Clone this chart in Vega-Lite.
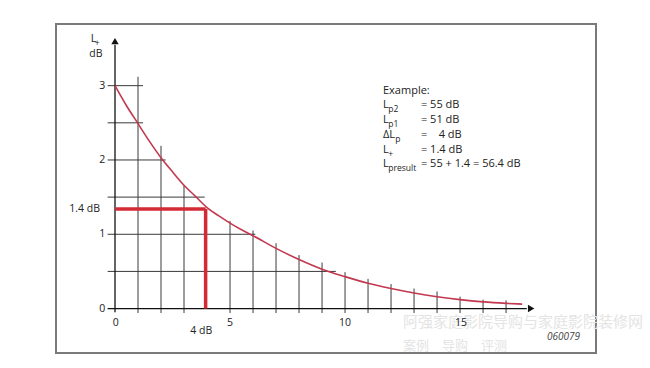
{
  "$schema": "https://vega.github.io/schema/vega-lite/v6.json",
  "width": 540,
  "height": 329,
  "autosize": {"type": "none"},
  "padding": {"left": 56, "top": 24, "right": 54, "bottom": 15},
  "background": "white",
  "config": {
    "view": {"stroke": "#7a7a7a", "strokeWidth": 2},
    "text": {"font": "Open Sans", "fontSize": 11, "color": "#222"}
  },
  "datasets": {
    "grid": [
      {"x": -0.32, "x2": 1.22, "y": 3, "y2": 3},
      {"x": -0.32, "x2": 1.22, "y": 2.5, "y2": 2.5},
      {"x": -0.32, "x2": 2.2, "y": 2, "y2": 2},
      {"x": -0.32, "x2": 3.9, "y": 1.5, "y2": 1.5},
      {"x": -0.32, "x2": 6.1, "y": 1, "y2": 1},
      {"x": -0.32, "x2": 9.6, "y": 0.5, "y2": 0.5},
      {"x": 1, "x2": 1, "y": -0.06, "y2": 3.12},
      {"x": 2, "x2": 2, "y": -0.06, "y2": 2.19},
      {"x": 3, "x2": 3, "y": -0.06, "y2": 1.66},
      {"x": 5, "x2": 5, "y": -0.06, "y2": 1.18},
      {"x": 6, "x2": 6, "y": -0.06, "y2": 1.05},
      {"x": 7, "x2": 7, "y": -0.06, "y2": 0.88},
      {"x": 8, "x2": 8, "y": -0.06, "y2": 0.72},
      {"x": 9, "x2": 9, "y": -0.06, "y2": 0.62},
      {"x": 10, "x2": 10, "y": -0.06, "y2": 0.49},
      {"x": 11, "x2": 11, "y": -0.06, "y2": 0.4},
      {"x": 12, "x2": 12, "y": -0.06, "y2": 0.33},
      {"x": 13, "x2": 13, "y": -0.06, "y2": 0.27},
      {"x": 14, "x2": 14, "y": -0.06, "y2": 0.23},
      {"x": 15, "x2": 15, "y": -0.06, "y2": 0.16},
      {"x": 16, "x2": 16, "y": -0.06, "y2": 0.12},
      {"x": 17, "x2": 17, "y": -0.06, "y2": 0.11}
    ],
    "axes": [
      {"x": -0.32, "x2": 17.9, "y": 0, "y2": 0},
      {"x": 0, "x2": 0, "y": -0.05, "y2": 3.55}
    ],
    "red": [
      {"x": 0, "x2": 3.94, "y": 1.34, "y2": 1.34},
      {"x": 3.94, "x2": 3.94, "y": 0, "y2": 1.34}
    ],
    "curve": [
      {"x": 0, "y": 3.0},
      {"x": 0.5, "y": 2.73},
      {"x": 1, "y": 2.49},
      {"x": 1.5, "y": 2.25},
      {"x": 2, "y": 2.03},
      {"x": 2.5, "y": 1.84},
      {"x": 3, "y": 1.66},
      {"x": 3.5, "y": 1.51},
      {"x": 4, "y": 1.36},
      {"x": 4.5, "y": 1.25},
      {"x": 5, "y": 1.15},
      {"x": 5.5, "y": 1.06},
      {"x": 6, "y": 0.98},
      {"x": 7, "y": 0.81},
      {"x": 8, "y": 0.66},
      {"x": 9, "y": 0.53},
      {"x": 10, "y": 0.43},
      {"x": 11, "y": 0.34},
      {"x": 12, "y": 0.27},
      {"x": 13, "y": 0.21},
      {"x": 14, "y": 0.16},
      {"x": 15, "y": 0.12},
      {"x": 16, "y": 0.09},
      {"x": 17, "y": 0.07},
      {"x": 17.7, "y": 0.06}
    ],
    "arrowUp": [{"x": 0, "y": 3.6}],
    "arrowRight": [{"x": 18.09, "y": 0}],
    "yLabels": [
      {"x": -0.42, "y": 0, "text": "0"},
      {"x": -0.42, "y": 1, "text": "1"},
      {"x": -0.42, "y": 2, "text": "2"},
      {"x": -0.42, "y": 3, "text": "3"},
      {"x": -0.65, "y": 1.34, "text": "1.4 dB"}
    ],
    "xLabels": [
      {"x": 0.03, "y": -0.19, "text": "0"},
      {"x": 5, "y": -0.19, "text": "5"},
      {"x": 10, "y": -0.19, "text": "10"},
      {"x": 15.04, "y": -0.19, "text": "15"},
      {"x": 3.75, "y": -0.3, "text": "4 dB"},
      {"x": -0.83, "y": 3.43, "text": "dB"}
    ],
    "notes": [
      {"x": 11.65, "y": 2.93, "text": "Example:"},
      {"x": 11.65, "y": 2.74, "text": "L"},
      {"x": 11.65, "y": 2.54, "text": "L"},
      {"x": 11.65, "y": 2.34, "text": "ΔL"},
      {"x": 11.65, "y": 2.14, "text": "L"},
      {"x": 11.65, "y": 1.94, "text": "L"},
      {"x": 13.3, "y": 2.74, "text": "= 55 dB"},
      {"x": 13.3, "y": 2.54, "text": "= 51 dB"},
      {"x": 13.3, "y": 2.34, "text": "=\u00a0\u00a0\u00a0 4 dB"},
      {"x": 13.3, "y": 2.14, "text": "= 1.4 dB"},
      {"x": 13.3, "y": 1.94, "text": "= 55 + 1.4 = 56.4 dB"},
      {"x": -1.05, "y": 3.63, "text": "L"}
    ],
    "subs": [
      {"x": 11.88, "y": 2.74, "text": "p2"},
      {"x": 11.88, "y": 2.54, "text": "p1"},
      {"x": 12.18, "y": 2.34, "text": "p"},
      {"x": 11.88, "y": 2.14, "text": "+"},
      {"x": 11.88, "y": 1.94, "text": "presult"},
      {"x": -0.88, "y": 3.63, "text": "+"}
    ],
    "code": [{"x": 18.78, "y": -0.38, "text": "060079"}],
    "wm1": [{"x": 12.52, "y": -0.18, "text": "阿强家庭影院导购与家庭影院装修网"}],
    "wm2": [{"x": 12.52, "y": -0.5, "text": "案例　导购　评测"}]
  },
  "encoding": {
    "x": {"field": "x", "type": "quantitative", "scale": {"domain": [-2.565, 20.91], "nice": false, "zero": false}, "axis": null},
    "y": {"field": "y", "type": "quantitative", "scale": {"domain": [-0.598, 3.83], "nice": false, "zero": false}, "axis": null}
  },
  "layer": [
    {
      "data": {"name": "wm1"},
      "mark": {"type": "text", "align": "left", "baseline": "middle", "font": "Noto Sans CJK SC", "fontSize": 15, "color": "#e4e4e4"},
      "encoding": {"text": {"field": "text"}}
    },
    {
      "data": {"name": "wm2"},
      "mark": {"type": "text", "align": "left", "baseline": "middle", "font": "Noto Sans CJK SC", "fontSize": 13, "color": "#e4e4e4"},
      "encoding": {"text": {"field": "text"}}
    },
    {
      "data": {"name": "grid"},
      "mark": {"type": "rule", "color": "#3a3a3a", "strokeWidth": 1},
      "encoding": {"x2": {"field": "x2"}, "y2": {"field": "y2"}}
    },
    {
      "data": {"name": "axes"},
      "mark": {"type": "rule", "color": "#111", "strokeWidth": 1.3},
      "encoding": {"x2": {"field": "x2"}, "y2": {"field": "y2"}}
    },
    {
      "data": {"name": "red"},
      "mark": {"type": "rule", "color": "#d42a35", "strokeWidth": 3.5},
      "encoding": {"x2": {"field": "x2"}, "y2": {"field": "y2"}}
    },
    {
      "data": {"name": "curve"},
      "mark": {"type": "line", "color": "#c2384f", "strokeWidth": 1.6, "interpolate": "monotone"},
      "encoding": {}
    },
    {
      "data": {"name": "arrowUp"},
      "mark": {"type": "point", "shape": "triangle-up", "filled": true, "color": "#111", "size": 55, "opacity": 1}
    },
    {
      "data": {"name": "arrowRight"},
      "mark": {"type": "point", "shape": "triangle-right", "filled": true, "color": "#111", "size": 55, "opacity": 1}
    },
    {
      "data": {"name": "yLabels"},
      "mark": {"type": "text", "align": "right", "baseline": "middle", "fontSize": 10.5},
      "encoding": {"text": {"field": "text"}}
    },
    {
      "data": {"name": "xLabels"},
      "mark": {"type": "text", "align": "center", "baseline": "middle", "fontSize": 10.5},
      "encoding": {"text": {"field": "text"}}
    },
    {
      "data": {"name": "notes"},
      "mark": {"type": "text", "align": "left", "baseline": "middle", "fontSize": 11},
      "encoding": {"text": {"field": "text"}}
    },
    {
      "data": {"name": "subs"},
      "mark": {"type": "text", "align": "left", "baseline": "middle", "fontSize": 8.5, "dy": 4},
      "encoding": {"text": {"field": "text"}}
    },
    {
      "data": {"name": "code"},
      "mark": {"type": "text", "align": "left", "baseline": "middle", "fontSize": 10, "fontStyle": "italic", "color": "#444"},
      "encoding": {"text": {"field": "text"}}
    }
  ]
}
